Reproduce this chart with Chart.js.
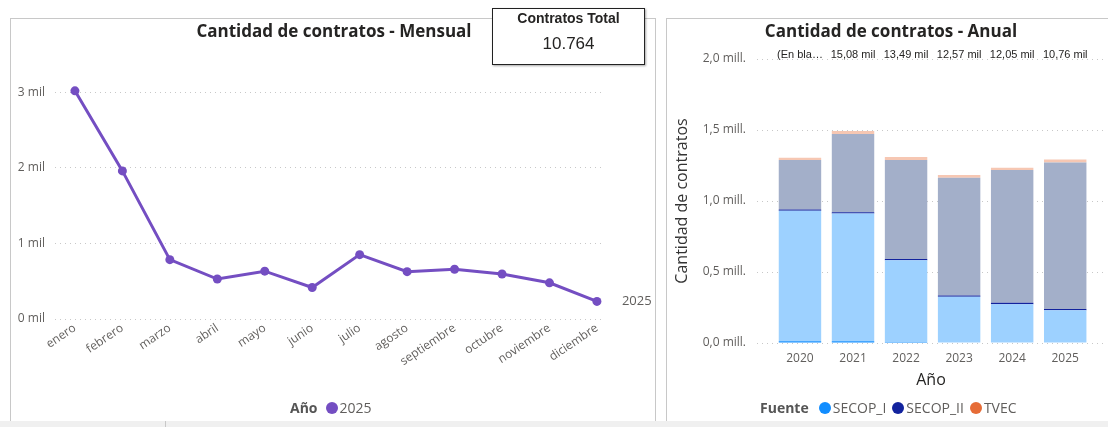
<!DOCTYPE html>
<html>
<head>
<meta charset="utf-8">
<script src="https://cdn.jsdelivr.net/npm/chart.js@4.4.1/dist/chart.umd.min.js"></script>
<style>
body{margin:0;width:1108px;height:427px;position:relative;background:#fff;overflow:hidden;font-family:'Open Sans',sans-serif}
.panel{position:absolute;top:18px;height:403px;border:1px solid #c8c8c8;box-sizing:border-box;border-bottom:none}
#p1{left:10px;width:646px}
#p2{left:666px;width:443px;border-right:none}
.strip{position:absolute;left:0;top:421px;width:1108px;height:6px;background:#f0f0f0}
.strip i{position:absolute;left:165px;top:0;width:1px;height:6px;background:#c8c8c8}
canvas{position:absolute}
#c1{left:10px;top:18px}
#c2{left:666px;top:18px}
.titulo{position:absolute;top:21px;width:400px;text-align:center;font-size:17px;line-height:20px;font-weight:bold;color:#252423;white-space:nowrap}
.card{position:absolute;left:492px;top:8px;width:153px;height:57px;box-sizing:border-box;border:1.5px solid #222;background:#fff;box-shadow:1px 1px 2px rgba(0,0,0,.35);text-align:center;font-family:'Liberation Sans',Arial,sans-serif;color:#252423}
.card .t{font-weight:bold;font-size:14px;margin-top:1px}
.card .v{font-size:17px;margin-top:8px}
.leg{position:absolute;top:398px;font-size:14px;color:#605e5c;white-space:nowrap;display:flex;align-items:center}
.leg b{color:#555;margin-right:8px}
.leg span.d{display:inline-block;width:12px;height:12px;border-radius:50%;margin-right:2px;margin-left:6px}
</style>
</head>
<body>
<div class="panel" id="p1"></div>
<div class="panel" id="p2"></div>
<div class="strip"><i></i></div>
<canvas id="c1" width="645" height="402"></canvas>
<canvas id="c2" width="442" height="402"></canvas>
<div class="titulo" style="left:134px">Cantidad de contratos - Mensual</div>
<div class="titulo" style="left:691px">Cantidad de contratos - Anual</div>
<div class="card"><div class="t">Contratos Total</div><div class="v" id="total">10.764</div></div>
<div class="leg" id="leg1" style="left:290px"></div>
<div class="leg" id="leg2" style="left:760px"></div>
<script>
// --- mensual 2025
const meses = ['enero', 'febrero', 'marzo', 'abril', 'mayo', 'junio', 'julio', 'agosto', 'septiembre', 'octubre', 'noviembre', 'diciembre'];
const contratos2025 = [3020, 1960, 785, 529, 633, 417, 852, 627, 659, 596, 479, 233];
const ticksMes = [0, 1000, 2000, 3000];

// --- anual por fuente
const anios = ['2020', '2021', '2022', '2023', '2024', '2025'];
const secopIResaltado = [13000, 12000, 7000, 4000, 3000, 3000];
const secopIResto = [918000, 900000, 576000, 321000, 270000, 228000];
const secopIIResaltado = [9000, 9000, 9000, 10000, 10000, 9000];
const secopIIResto = [348000, 551000, 696000, 829000, 935000, 1032000];
const tvec = [17000, 21000, 22000, 19000, 16000, 21000];
const etiquetasTop = ['(En bla…', '15,08 mil', '13,49 mil', '12,57 mil', '12,05 mil', '10,76 mil'];
const ticksAnual = [0, 500000, 1000000, 1500000, 2000000];

const gris = '#605e5c';
const fuente = "'Open Sans', sans-serif";
const morado = '#744EC2';
const colores = {SECOP_I: '#118DFF', SECOP_II: '#12239E', TVEC: '#E66C37'};

const etiquetaFinal = {
    id: 'etiquetaFinal',
    afterDatasetsDraw(chart) {
        const meta = chart.getDatasetMeta(0);
        const p = meta.data[meta.data.length - 1];
        const ctx = chart.ctx;
        ctx.save();
        ctx.font = '13px ' + fuente;
        ctx.fillStyle = gris;
        ctx.textBaseline = 'middle';
        ctx.fillText(chart.data.datasets[0].label, p.x + 25, p.y);
        ctx.restore();
    }
};

new Chart(document.querySelector('#c1'), {
    type: 'line',
    data: {
        datasets: [{
            label: '2025',
            data: contratos2025.map((v, i) => ({x: i, y: v})),
            borderColor: morado,
            backgroundColor: morado,
            borderWidth: 3,
            pointRadius: 4.5,
            pointHoverRadius: 4.5,
            pointBackgroundColor: morado,
            pointBorderWidth: 0
        }]
    },
    options: {
        responsive: false,
        animation: false,
        layout: {padding: {top: 63, right: 50, bottom: 41}},
        plugins: {
            legend: {display: false},
            tooltip: {enabled: false}
        },
        scales: {
            x: {
                type: 'linear',
                offset: false,
                min: -0.42,
                max: 11.17,
                afterBuildTicks: s => { s.ticks = meses.map((m, i) => ({value: i})); },
                afterFit: s => { s.height = 60; },
                grid: {display: false},
                border: {display: false},
                ticks: {
                    callback: v => meses[v],
                    autoSkip: false,
                    minRotation: 34,
                    maxRotation: 34,
                    color: gris,
                    font: {family: fuente, size: 12},
                    padding: -6
                }
            },
            y: {
                min: 0,
                max: 3150,
                afterBuildTicks: s => { s.ticks = ticksMes.map(v => ({value: v})); },
                afterFit: s => { s.width = 45; },
                grid: {color: '#c8c8c8', drawTicks: false},
                border: {display: false, dash: [1, 4]},
                ticks: {
                    callback: v => (v / 1000) + ' mil',
                    color: gris,
                    font: {family: fuente, size: 12},
                    padding: 10
                }
            }
        }
    },
    plugins: [etiquetaFinal]
});

const etiquetasArriba = {
    id: 'etiquetasArriba',
    afterDatasetsDraw(chart) {
        const meta = chart.getDatasetMeta(0);
        const ctx = chart.ctx;
        ctx.save();
        ctx.font = "11px 'Liberation Sans', Arial, sans-serif";
        ctx.fillStyle = '#252423';
        ctx.textAlign = 'center';
        ctx.textBaseline = 'middle';
        meta.data.forEach((bar, i) => {
            ctx.fillText(etiquetasTop[i], bar.x, chart.chartArea.top - 4);
        });
        ctx.restore();
    }
};

const serie = (label, valores, color) => ({
    label: label,
    data: valores.map((v, i) => ({x: i, y: v})),
    backgroundColor: color,
    borderWidth: 0,
    categoryPercentage: 0.8,
    barPercentage: 1
});

new Chart(document.querySelector('#c2'), {
    type: 'bar',
    data: {
        datasets: [
            serie('SECOP_I', secopIResaltado, colores.SECOP_I),
            serie('SECOP_I', secopIResto, '#9DD1FF'),
            serie('SECOP_II', secopIIResaltado, colores.SECOP_II),
            serie('SECOP_II', secopIIResto, '#A3AFC9'),
            serie('TVEC', tvec, '#F6C7B3')
        ]
    },
    options: {
        responsive: false,
        animation: false,
        layout: {padding: {top: 41, right: 3, bottom: 22}},
        plugins: {
            legend: {display: false},
            tooltip: {enabled: false}
        },
        scales: {
            x: {
                type: 'linear',
                stacked: true,
                offset: false,
                min: -0.81,
                max: 5.75,
                afterBuildTicks: s => { s.ticks = anios.map((a, i) => ({value: i})); },
                afterFit: s => { s.height = 55; },
                grid: {display: false},
                border: {display: false},
                ticks: {
                    callback: v => anios[v],
                    color: gris,
                    font: {family: fuente, size: 12},
                    padding: 0,
                    maxRotation: 0
                },
                title: {
                    display: true,
                    text: 'Año',
                    color: '#252423',
                    font: {family: fuente, size: 16},
                    padding: {top: 0, bottom: 8}
                }
            },
            y: {
                stacked: true,
                min: 0,
                max: 2000000,
                afterBuildTicks: s => { s.ticks = ticksAnual.map(v => ({value: v})); },
                afterFit: s => { s.width = 91; },
                grid: {color: '#c8c8c8', drawTicks: false},
                border: {display: false, dash: [1, 4]},
                ticks: {
                    callback: v => (v / 1000000).toFixed(1).replace('.', ',') + ' mill.',
                    color: gris,
                    font: {family: fuente, size: 12},
                    padding: 11
                },
                title: {
                    display: true,
                    text: 'Cantidad de contratos',
                    color: '#333',
                    font: {family: fuente, size: 16},
                    padding: {top: 7, bottom: 0}
                }
            }
        }
    },
    plugins: [etiquetasArriba]
});

// leyendas
document.querySelector('#leg1').innerHTML = '<b>Año</b><span class="d" style="background:' + morado + ';margin-left:0"></span>2025';
let html = '<b>Fuente</b>';
Object.keys(colores).forEach((k, i) => {
    html += '<span class="d" style="background:' + colores[k] + (i === 0 ? ';margin-left:2px' : '') + '"></span>' + k;
});
document.querySelector('#leg2').innerHTML = html;
</script>
</body>
</html>
